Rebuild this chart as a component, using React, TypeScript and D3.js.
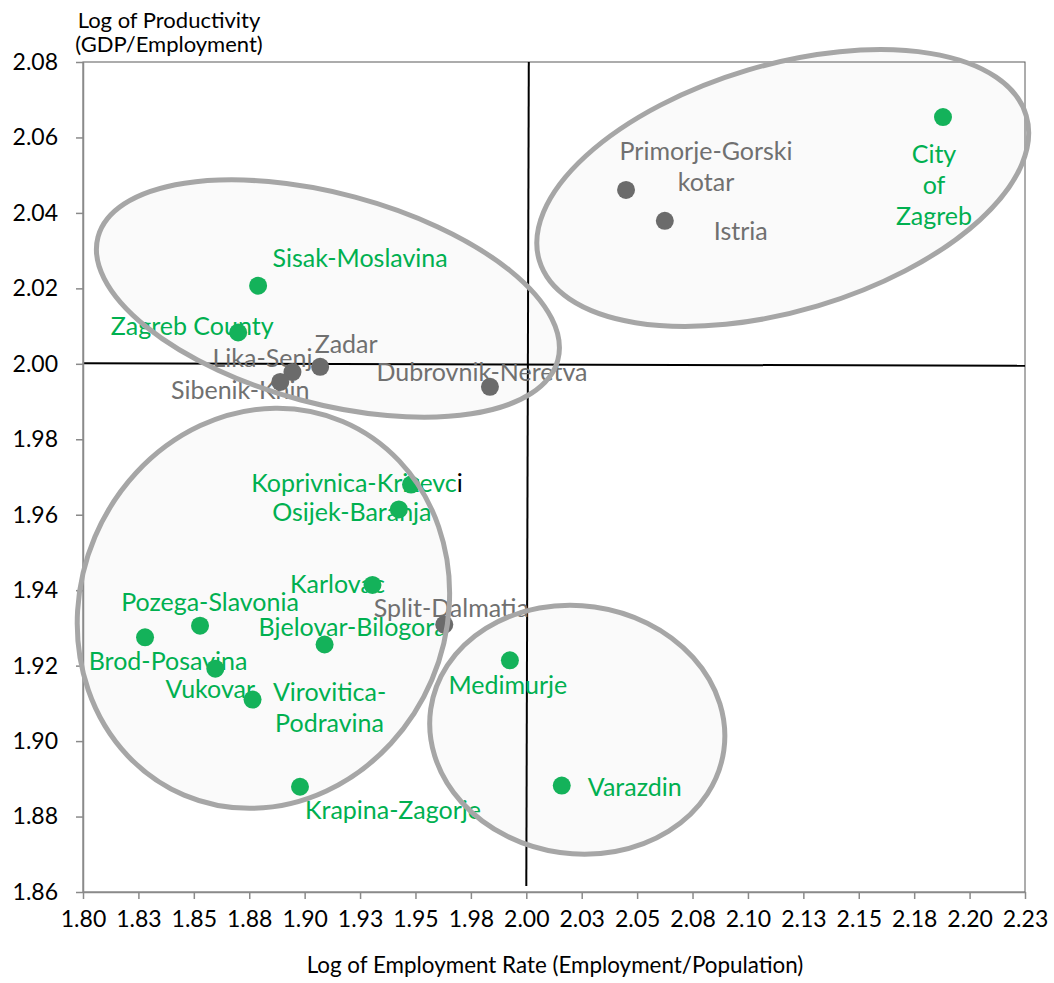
import React, { useEffect, useRef } from "react";
import * as d3 from "d3";

const regions = [
    "City of Zagreb", "Primorje-Gorski kotar", "Istria", "Sisak-Moslavina", "Zagreb County",
    "Zadar", "Lika-Senj", "Sibenik-Knin", "Dubrovnik-Neretva", "Koprivnica-Krizevci",
    "Osijek-Baranja", "Karlovac", "Split-Dalmatia", "Pozega-Slavonia", "Brod-Posavina",
    "Bjelovar-Bilogora", "Vukovar", "Virovitica-Podravina", "Krapina-Zagorje", "Medimurje", "Varazdin",
];
const employmentRate = [
    2.188, 2.045, 2.0625, 1.879, 1.870,
    1.907, 1.8945, 1.889, 1.9836, 1.948,
    1.9425, 1.9306, 1.963, 1.8528, 1.828,
    1.909, 1.8597, 1.8765, 1.8979, 1.9926, 2.016,
];
const productivity = [
    2.0654, 2.0461, 2.0379, 2.0207, 2.0083,
    1.9992, 1.9978, 1.9952, 1.9939, 1.968,
    1.9614, 1.9414, 1.9309, 1.9306, 1.9275,
    1.9256, 1.9192, 1.9110, 1.8879, 1.9214, 1.8882,
];
const regionGroup = [
    "highlight", "other", "other", "highlight", "highlight",
    "other", "other", "other", "other", "highlight",
    "highlight", "highlight", "other", "highlight", "highlight",
    "highlight", "highlight", "highlight", "highlight", "highlight", "highlight",
];

const xTickLabels = ["1.80", "1.83", "1.85", "1.88", "1.90", "1.93", "1.95", "1.98", "2.00",
    "2.03", "2.05", "2.08", "2.10", "2.13", "2.15", "2.18", "2.20", "2.23"];
const yTickLabels = ["1.86", "1.88", "1.90", "1.92", "1.94", "1.96", "1.98", "2.00", "2.02", "2.04", "2.06", "2.08"];

// centres of the hand drawn cluster ellipses (data units)
const clusterX = [1.9105, 2.1157, 1.8814, 2.023];
const clusterY = [2.0173, 2.0466, 1.9352, 1.903];

const quadrantX = 2.0;
const quadrantY = 2.0;

// shape of the ellipses, px
const clusterShapes = [
    { rx: 238, ry: 105, rot: 15 },
    { rx: 254, ry: 123, rot: -16.6 },
    { rx: 183, ry: 203, rot: 23 },
    { rx: 148, ry: 124, rot: 8 },
];

// label placement relative to the marker, px
const labelOffsets: Record<string, [number, number]> = {
    "City of Zagreb": [-9, 37],
    "Primorje-Gorski kotar": [80, -39],
    "Istria": [76, 10],
    "Sisak-Moslavina": [102, -27],
    "Zagreb County": [-46, -6],
    "Zadar": [26, -23],
    "Lika-Senj": [-30, -14],
    "Sibenik-Knin": [-40, 8],
    "Dubrovnik-Neretva": [-8, -15],
    "Koprivnica-Krizevci": [-54, -1],
    "Osijek-Baranja": [-47, 3],
    "Karlovac": [-35, -1],
    "Split-Dalmatia": [7, -16],
    "Pozega-Slavonia": [10, -23],
    "Brod-Posavina": [23, 24],
    "Bjelovar-Bilogora": [28, -17],
    "Vukovar": [-5, 21],
    "Virovitica-Podravina": [77, -7],
    "Krapina-Zagorje": [93, 24],
    "Medimurje": [-2, 25],
    "Varazdin": [73, 2],
};
const labelLines: Record<string, string[]> = {
    "City of Zagreb": ["City", "of", "Zagreb"],
    "Primorje-Gorski kotar": ["Primorje-Gorski", "kotar"],
    "Virovitica-Podravina": ["Virovitica-", "Podravina"],
};

const GREEN = "#00B050";
const GREY = "#707070";

export default function App() {
    const svgRef = useRef<SVGSVGElement>(null);

    useEffect(() => {
        const W = 1054;
        const H = 983;
        const margin = { top: 62, right: 29, bottom: 91, left: 83 };
        const font = "Lato, 'Open Sans', sans-serif";

        const x = d3.scaleLinear().domain([1.8, 2.225]).range([margin.left, W - margin.right]);
        const y = d3.scaleLinear().domain([1.86, 2.08]).range([H - margin.bottom, margin.top]);
        const color = d3.scaleOrdinal<string, string>().domain(["highlight", "other"]).range([GREEN, GREY]);

        const data = regions.map((name, i) => ({
            name,
            ex: employmentRate[i],
            pr: productivity[i],
            group: regionGroup[i],
        }));
        const clusters = clusterX.map((cx, i) => ({ cx, cy: clusterY[i], ...clusterShapes[i] }));

        const svg = d3.select(svgRef.current);
        svg.selectAll("*").remove();

        // ellipse fills first so the points keep their colour
        svg.append("g")
            .selectAll("ellipse")
            .data(clusters)
            .enter()
            .append("ellipse")
            .attr("transform", (d) => `translate(${x(d.cx)},${y(d.cy)}) rotate(${d.rot})`)
            .attr("rx", (d) => d.rx)
            .attr("ry", (d) => d.ry)
            .attr("fill", "#fafafa");

        // plot frame (top / right)
        svg.append("rect")
            .attr("x", x(1.8))
            .attr("y", y(2.08))
            .attr("width", x(2.225) - x(1.8))
            .attr("height", y(1.86) - y(2.08))
            .attr("fill", "none")
            .attr("stroke", "#5a5a5a")
            .attr("stroke-width", 1);

        // quadrant lines
        svg.append("line")
            .attr("x1", x(quadrantX) + 2.5).attr("y1", y(2.08))
            .attr("x2", x(quadrantX)).attr("y2", y(1.86) - 6)
            .attr("stroke", "#000").attr("stroke-width", 2);
        svg.append("line")
            .attr("x1", x(1.8)).attr("y1", y(quadrantY) - 0.5)
            .attr("x2", x(2.225)).attr("y2", y(quadrantY) + 2)
            .attr("stroke", "#000").attr("stroke-width", 2);

        // axes
        const xAxis = svg.append("g")
            .attr("transform", `translate(0,${y(1.86)})`)
            .call(
                d3.axisBottom(x)
                    .tickValues(xTickLabels.map((_, i) => 1.8 + i * 0.025))
                    .tickFormat((_, i) => xTickLabels[i])
                    .tickSize(7)
                    .tickSizeOuter(0)
                    .tickPadding(12)
            );
        xAxis.select(".domain").attr("stroke", "#8a8a8a").attr("stroke-width", 1.5);
        xAxis.selectAll("line").attr("stroke", "#8a8a8a").attr("stroke-width", 1.5);
        xAxis.selectAll("text").attr("fill", "#000").style("font-family", font).style("font-size", "23px");

        const yAxis = svg.append("g")
            .attr("transform", `translate(${x(1.8)},0)`)
            .call(
                d3.axisLeft(y)
                    .tickValues(yTickLabels.map(Number))
                    .tickFormat((_, i) => yTickLabels[i])
                    .tickSize(7)
                    .tickSizeOuter(0)
                    .tickPadding(18)
            );
        yAxis.select(".domain").attr("stroke", "#8a8a8a").attr("stroke-width", 1.5);
        yAxis.selectAll("line").attr("stroke", "#8a8a8a").attr("stroke-width", 1.5);
        yAxis.selectAll("text").attr("fill", "#000").style("font-family", font).style("font-size", "23px");

        // axis titles
        const yTitle = svg.append("text")
            .attr("text-anchor", "middle")
            .style("font-family", font)
            .style("font-size", "22px")
            .attr("fill", "#000");
        yTitle.append("tspan").attr("x", 169).attr("y", 28).text("Log of Productivity");
        yTitle.append("tspan").attr("x", 169).attr("y", 52).text("(GDP/Employment)");

        svg.append("text")
            .attr("x", 555)
            .attr("y", 973)
            .attr("text-anchor", "middle")
            .style("font-family", font)
            .style("font-size", "22.4px")
            .attr("fill", "#000")
            .text("Log of Employment Rate (Employment/Population)");

        // point labels
        const labels = svg.append("g")
            .selectAll("text")
            .data(data)
            .enter()
            .append("text")
            .attr("text-anchor", "middle")
            .style("font-family", font)
            .style("font-size", "25px")
            .attr("fill", (d) => color(d.group));

        labels.each(function (d) {
            const [dx, dy] = labelOffsets[d.name];
            const lines = labelLines[d.name] || [d.name];
            const cx = x(d.ex) + dx;
            const t = d3.select(this);
            lines.forEach((line, k) => {
                const ts = t.append("tspan")
                    .attr("x", cx)
                    .attr("y", y(d.pr) + dy + k * 31)
                    .attr("dy", "0.35em");
                if (d.name === "Koprivnica-Krizevci") {
                    ts.text(line.slice(0, -1));
                    t.append("tspan").attr("fill", "#000").text(line.slice(-1));
                } else {
                    ts.text(line);
                }
            });
        });

        // points
        svg.append("g")
            .selectAll("circle")
            .data(data)
            .enter()
            .append("circle")
            .attr("cx", (d) => x(d.ex))
            .attr("cy", (d) => y(d.pr))
            .attr("r", 9)
            .attr("fill", (d) => (d.group === "highlight" ? "#14b25a" : "#6b6b6b"));

        // ellipse outlines on top
        svg.append("g")
            .selectAll("ellipse")
            .data(clusters)
            .enter()
            .append("ellipse")
            .attr("transform", (d) => `translate(${x(d.cx)},${y(d.cy)}) rotate(${d.rot})`)
            .attr("rx", (d) => d.rx)
            .attr("ry", (d) => d.ry)
            .attr("fill", "none")
            .attr("stroke", "#a6a6a6")
            .attr("stroke-width", 5);
    }, []);

    return (
        <svg
            ref={svgRef}
            width={1054}
            height={983}
            style={{ position: "absolute", left: 0, top: 0, background: "#fff", display: "block" }}
        />
    );
}
